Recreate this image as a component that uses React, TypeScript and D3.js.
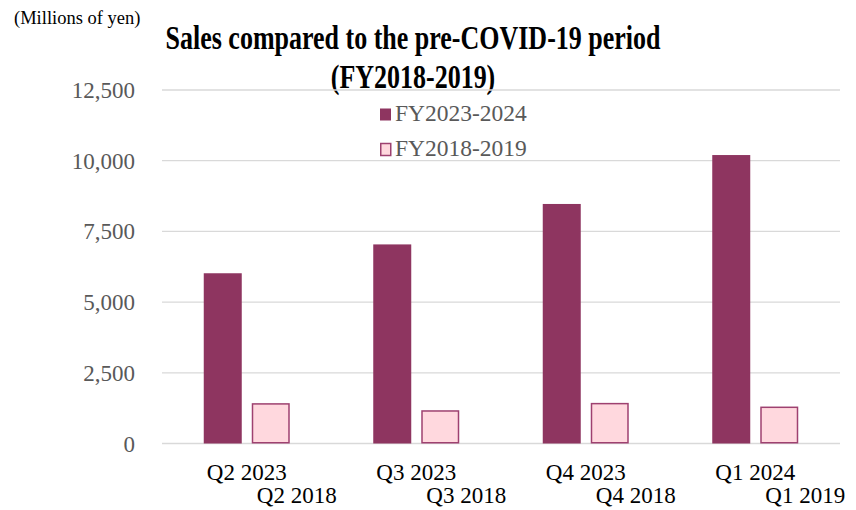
import React from "react";
import * as d3 from "d3";

const categories = ["Q2 2023", "Q3 2023", "Q4 2023", "Q1 2024"];
const prevCategories = ["Q2 2018", "Q3 2018", "Q4 2018", "Q1 2019"];
const seriesNames = ["FY2023-2024", "FY2018-2019"];
const current = [6020, 7040, 8470, 10200];
const previous = [1400, 1150, 1410, 1280];
const yTicks = [0, 2500, 5000, 7500, 10000, 12500];

const W = 856, H = 510;
const FONT = "'Liberation Serif', 'Times New Roman', serif";
const DARK = "#8E3560";
const LIGHT = "#FFD8DE";
const LIGHT_STROKE = "#9E4170";

export default function App() {
  const x = d3.scaleBand<string>().domain(categories).range([162, 840]);
  const y = d3.scaleLinear().domain([0, 12500]).range([443.5, 90]);
  const fmt = d3.format(",");
  const bw = 38, gap = 10;
  const tScale = 26 / 33.5;
  return (
    <svg width={W} height={H} style={{ position: "absolute", left: 0, top: 0, background: "#fff" }} fontFamily={FONT}>
      <text x={14} y={24} fontSize={18.5} fill="#000">(Millions of yen)</text>
      <g transform={`translate(413,48.5) scale(${tScale},1)`}>
        <text x={0} y={0} fontSize={33.5} fontWeight="bold" textAnchor="middle" fill="#000">Sales compared to the pre-COVID-19 period</text>
        <text x={0} y={39.5} fontSize={33.5} fontWeight="bold" textAnchor="middle" fill="#000">(FY2018-2019)</text>
      </g>
      {yTicks.map((t) => (
        <g key={t}>
          <line x1={162} x2={840} y1={y(t)} y2={y(t)} stroke="#D9D9D9" strokeWidth={1.3} />
          <text x={135} y={y(t) + 8} fontSize={23} textAnchor="end" fill="#595959">{fmt(t)}</text>
        </g>
      ))}
      {categories.map((c, i) => {
        const cx = x(c)! + x.bandwidth() / 2;
        const x0 = cx - gap / 2 - bw;
        const x1 = cx + gap / 2;
        return (
          <g key={c}>
            <rect x={x0} y={y(current[i])} width={bw} height={y(0) - y(current[i])} fill={DARK} />
            <rect x={x1 + 0.75} y={y(previous[i])} width={bw - 1.5} height={y(0) - y(previous[i]) - 0.75} fill={LIGHT} stroke={LIGHT_STROKE} strokeWidth={1.5} />
            <text x={cx} y={480} fontSize={23} textAnchor="middle" fill="#000">{c}</text>
            <text x={cx + 50} y={503} fontSize={23} textAnchor="middle" fill="#000">{prevCategories[i]}</text>
          </g>
        );
      })}
      <rect x={380} y={108.5} width={11} height={12} fill={DARK} />
      <text x={395} y={121} fontSize={23.5} fill="#595959">{seriesNames[0]}</text>
      <rect x={380.75} y={143.5} width={10} height={12} fill={LIGHT} stroke={LIGHT_STROKE} strokeWidth={1.5} />
      <text x={395} y={156} fontSize={23.5} fill="#595959">{seriesNames[1]}</text>
    </svg>
  );
}
